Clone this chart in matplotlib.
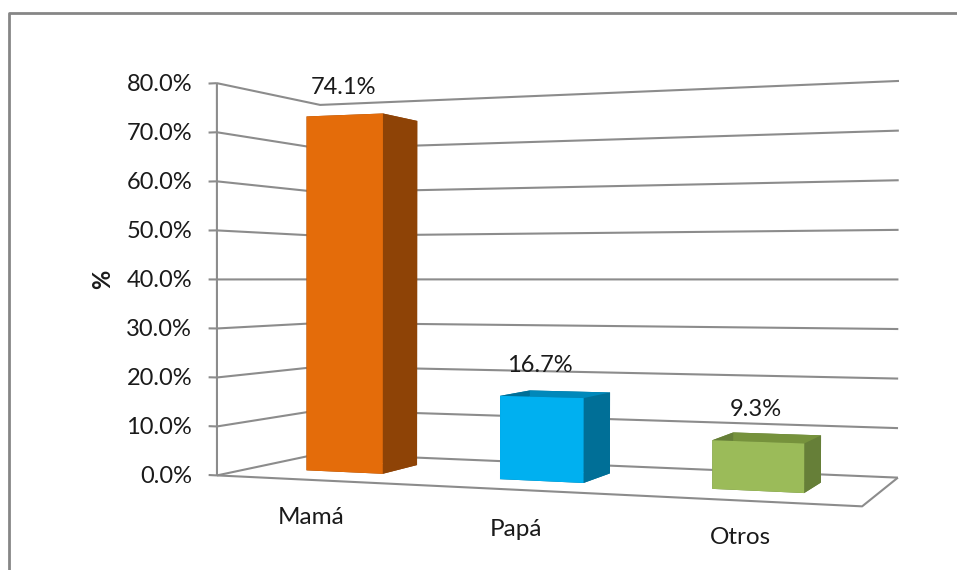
import numpy as np
import matplotlib
matplotlib.use("Agg")
import matplotlib.pyplot as plt
from matplotlib.lines import Line2D

categories = ["Mamá", "Papá", "Otros"]
values = [74.1, 16.7, 9.3]
value_labels = ["74.1%", "16.7%", "9.3%"]
ticks = [0, 10, 20, 30, 40, 50, 60, 70, 80]
tick_labels = ["0.0%", "10.0%", "20.0%", "30.0%", "40.0%", "50.0%", "60.0%", "70.0%", "80.0%"]

front_colors = ["#E46C0A", "#00B0F0", "#9BBB59"]
side_colors = ["#8E4306", "#006F97", "#667F38"]
# the top of the first bar is above eye level, only its underside would show
top_colors = ["#8E4306", "#0088BA", "#76923C"]
grid_color = "#8C8C8C"

plt.rcParams["font.family"] = "Lato"

# camera of the excel 3d chart: (category pos, depth, value) -> pixels
calib_model = [(0,0,0),(0,0,80),(0,1,0),(0,1,80),(3,1,0),(3,1,80),(3,0,0)]
calib_px = [(217,475),(217,83),(320,454),(320,105),(898,477),(899,81),(862,507)]

rows = []
for (x, y, z), (u, v) in zip(calib_model, calib_px):
    rows.append([x, y, z, 1, 0, 0, 0, 0, -u*x, -u*y, -u*z, -u])
    rows.append([0, 0, 0, 0, x, y, z, 1, -v*x, -v*y, -v*z, -v])
_, _, vt = np.linalg.svd(np.array(rows, float))
P = vt[-1].reshape(3, 4)
P = P / P[2, 3]
M = np.array([P[0], P[1], [0, 1, 0, 0], P[2]])

fig = plt.figure(figsize=(9.57, 5.70), dpi=100)
ax = fig.add_axes([0, 0, 1, 1], projection="3d")
ax.set_proj_type("ortho")  # stops Line3D masking points outside -1..1
ax.get_proj = lambda: M
ax.apply_aspect = lambda position=None: None
ax.computed_zorder = False
ax.set_axis_off()

def grid_line(xs, ys, zs):
    ax.plot(xs, ys, zs, color=grid_color, lw=1.5, zorder=1, solid_capstyle="butt")

for t in ticks:
    grid_line([0, 0, 3], [0, 1, 1], [t, t, t])
    grid_line([-0.045, 0], [0, 0], [t, t])
grid_line([0, 0], [0, 0], [0, 80])
grid_line([0, 3, 3], [0, 0, 1], [0, 0, 0])

for i, val in enumerate(values):
    # order of faces: bottom, top, front, back, left, right
    cols = [side_colors[i], top_colors[i], front_colors[i], side_colors[i], side_colors[i], side_colors[i]]
    ax.bar3d(i + 0.295, 0.32, 0, 0.405, 0.38, val, color=cols, shade=False, zorder=3 + i)

# the 2d limits behind the 3d axes are picture pixels
ax.viewLim.intervalx = (0, 957)
ax.viewLim.intervaly = (570, 0)

# frame of the chart area
fig.add_artist(Line2D([9, 9, 957], [570, 13, 13], transform=ax.transData, color="#868686", lw=2.0))

txt = "#1A1A1A"
for t, lab in zip(ticks, tick_labels):
    p = P @ np.array([0, 0, t, 1])
    ax.text2D(192, p[1] / p[2] + 1.5, lab, ha="right", va="center", fontsize=17, color=txt)

ax.text2D(103, 279, "%", rotation=90, ha="center", va="center", fontsize=17, fontweight="bold", color=txt)

label_pos = [(343, 87), (540, 366), (756, 410)]
for (u, v), lab in zip(label_pos, value_labels):
    ax.text2D(u, v, lab, ha="center", va="center", fontsize=17, color=txt)

cat_pos = [(311, 518), (516, 529), (740, 538)]
for (u, v), lab in zip(cat_pos, categories):
    ax.text2D(u, v, lab, ha="center", va="center", fontsize=17.5, color=txt)

fig.savefig("out.png", dpi=100)
